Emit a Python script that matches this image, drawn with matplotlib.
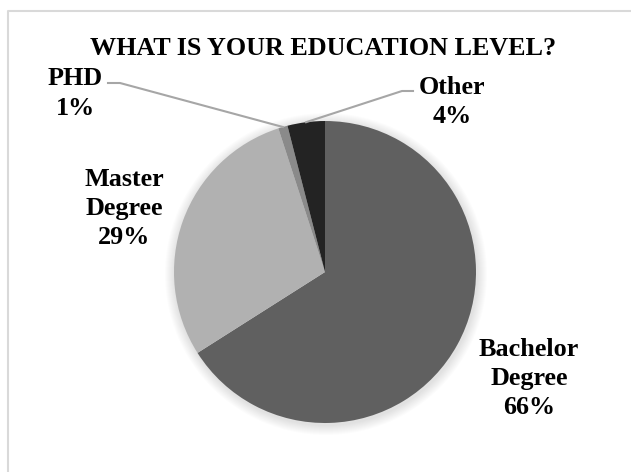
import numpy as np
import matplotlib.pyplot as plt
from matplotlib.patches import Circle

labels = ['Bachelor\nDegree', 'Master\nDegree', 'PHD', 'Other']
values = [66, 29, 1, 4]
colors = ['#606060', '#b1b1b1', '#8a8a8a', '#232323']

W, H = 631, 472
cx, cy, r = 325, H - 272, 151

plt.rcParams['font.family'] = ['Liberation Serif', 'DejaVu Serif']

fig = plt.figure(figsize=(W / 100, H / 100), dpi=100)
ax = fig.add_axes([0, 0, 1, 1])
ax.set_xlim(0, W)
ax.set_ylim(0, H)
ax.axis('off')

# frame (top and left lines only visible)
ax.plot([8, 8, W], [0, H - 11, H - 11], color='#d9d9d9', lw=1.5)

# soft shadow
for i in range(10):
    ax.add_patch(Circle((cx + 1, cy - 2), r + 10 - i, color='black',
                        alpha=0.012, lw=0, zorder=1))

wedges, _ = ax.pie(values, colors=colors, startangle=90, counterclock=False,
                   center=(cx, cy), radius=r, frame=False,
                   wedgeprops=dict(linewidth=0, zorder=2))
ax.set_xlim(0, W)
ax.set_ylim(0, H)
ax.set_aspect('equal')

fs = 18.8
ax.text(323.5, H - 55, 'WHAT IS YOUR EDUCATION LEVEL?', ha='center',
        va='baseline', fontsize=fs, fontweight='bold')

# label positions (center of text block) in pixels from top-left
pos = [(529, 378.5), (124.5, 208.5), (75, 93.5), (452, 102)]
for lab, v, (x, y) in zip(labels, values, pos):
    ax.text(x, H - y, f'{lab}\n{v}%', ha='center', va='center', fontsize=fs,
            fontweight='bold', linespacing=1.36, zorder=5)

# leader lines for the small slices
def edge(w):
    a = np.deg2rad((w.theta1 + w.theta2) / 2)
    return cx + r * np.cos(a), cy + r * np.sin(a)

ex, ey = edge(wedges[2])
ax.plot([108, 120, ex], [H - 83, H - 83, ey], color='#a6a6a6', lw=1.5, zorder=3)
ex, ey = edge(wedges[3])
ax.plot([413, 402, ex], [H - 91, H - 91, ey], color='#a6a6a6', lw=1.5, zorder=3)

fig.savefig('out.png', dpi=100)
